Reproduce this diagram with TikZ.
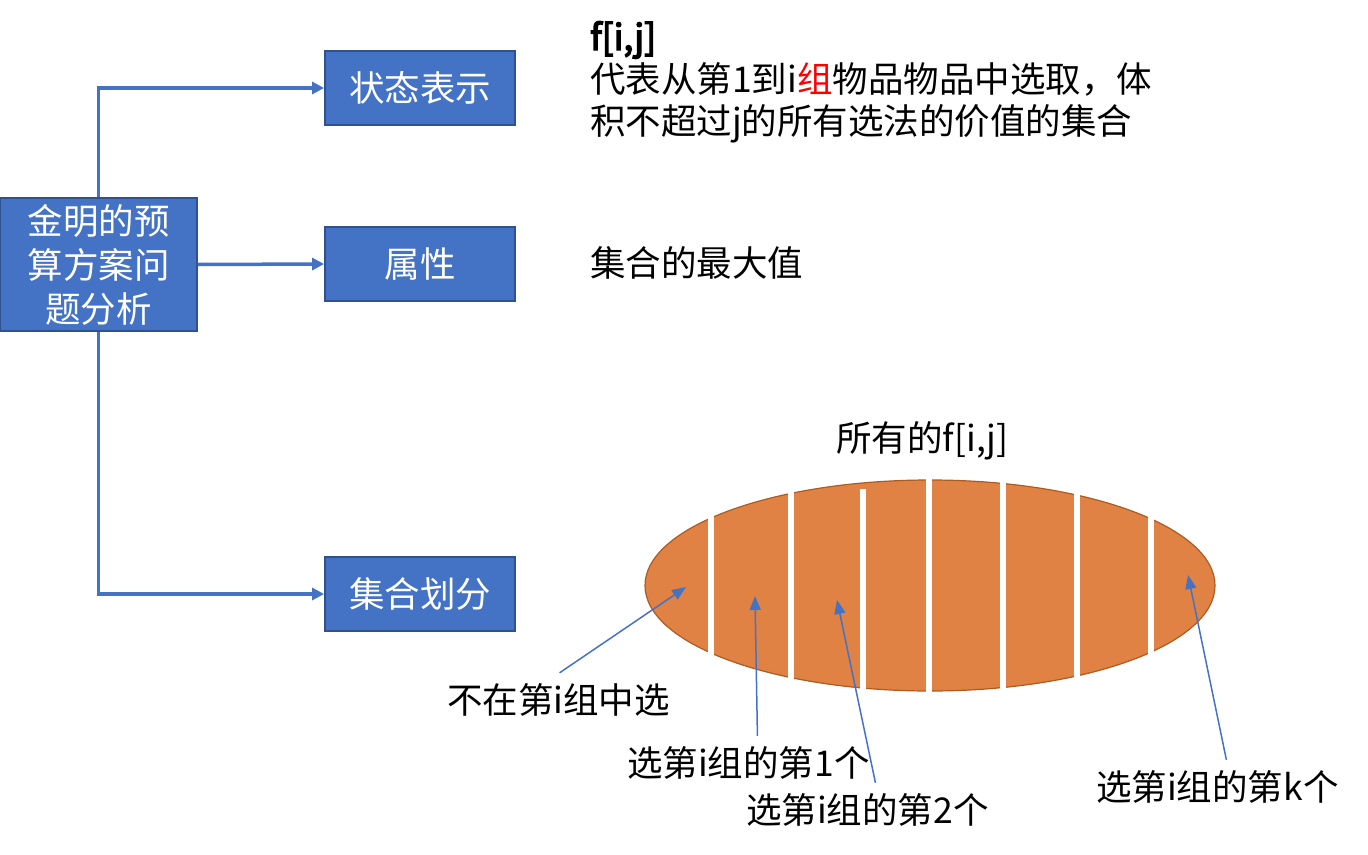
\documentclass[tikz,border=0pt]{standalone}
\usepackage{fontspec}
\setmainfont[AutoFakeBold=4]{Noto Sans CJK SC}
\usetikzlibrary{arrows.meta}
\definecolor{boxblue}{HTML}{4472C4}
\definecolor{boxedge}{HTML}{2F528F}
\definecolor{setorange}{HTML}{E08244}
\definecolor{setedge}{HTML}{AE5A21}

\begin{document}
\begin{tikzpicture}[x=1pt, y=-1pt,
    box/.style={draw=boxedge, line width=1.8pt, fill=boxblue, text=white,
        minimum width=190pt, minimum height=74pt, font=\fontsize{35.5}{44}\selectfont},
    link/.style={draw=boxblue, line width=3.5pt, -{Triangle[length=12pt,width=12pt]}},
    pointer/.style={draw=boxblue, line width=1.5pt, -{Triangle[length=14pt,width=11pt]}},
    txt/.style={inner sep=0pt, font=\fontsize{35.5}{42}\selectfont},
    note/.style={inner xsep=0pt, inner ysep=10pt, font=\fontsize{35.5}{42}\selectfont}]
    \useasboundingbox (0,0) rectangle (1368,854);

    \node[box, minimum width=197pt, minimum height=133pt, align=center] (prob) at (98.5,264.5)
        {金明的预\\算方案问\\题分析};
    \node[box] (state) at (420,88) {状态表示};
    \node[box] (attr) at (420,264) {属性};
    \node[box] (part) at (420,594) {集合划分};

    \draw[link] (prob.north) |- (state.west);
    \draw[link] (prob.east) -- (attr.west);
    \draw[link] (prob.south) |- (part.west);

    \node[txt, anchor=base west] (ftitle) at (590,50) {\textbf{f[i,j]}};
    \node[txt, anchor=base west] (fdef1) at (590,92) {代表从第1到i\textcolor{red}{组}物品物品中选取，体};
    \node[txt, anchor=base west] (fdef2) at (590,134) {积不超过j的所有选法的价值的集合};
    \node[txt, anchor=base west] (maxval) at (590,276) {集合的最大值};
    \node[txt, anchor=base west] (allf) at (836,451) {所有的f[i,j]};

    \filldraw[fill=setorange, draw=setedge, line width=1.2pt] (930,585.5) ellipse [x radius=285, y radius=105.5];
    \begin{scope}
        \clip (930,585.5) ellipse [x radius=287, y radius=107.5];
        \foreach \sx in {711,791,929,1003,1077,1151} {\draw[white, line width=6pt] (\sx,470) -- (\sx,700);}
        \draw[white, line width=6pt] (863,489) -- (863,700);
    \end{scope}

    \coordinate (pick0) at (686,587);
    \coordinate (pick1) at (755,596);
    \coordinate (pick2) at (837,600);
    \coordinate (pick3) at (1188,575);

    \node[note, anchor=base west] (lab0) at (447,713) {不在第i组中选};
    \node[note, anchor=base west] (lab1) at (627,776) {选第i组的第1个};
    \node[note, anchor=base west] (lab2) at (746,823) {选第i组的第2个};
    \node[note, anchor=base west] (lab3) at (1096,800) {选第i组的第k个};

    \draw[pointer] ([xshift=1pt]lab0.north) -- (pick0);
    \draw[pointer] ([xshift=9pt]lab1.north) -- (pick1);
    \draw[pointer] ([xshift=8pt]lab2.north) -- (pick2);
    \draw[pointer] ([xshift=9pt]lab3.north) -- (pick3);
\end{tikzpicture}
\end{document}
